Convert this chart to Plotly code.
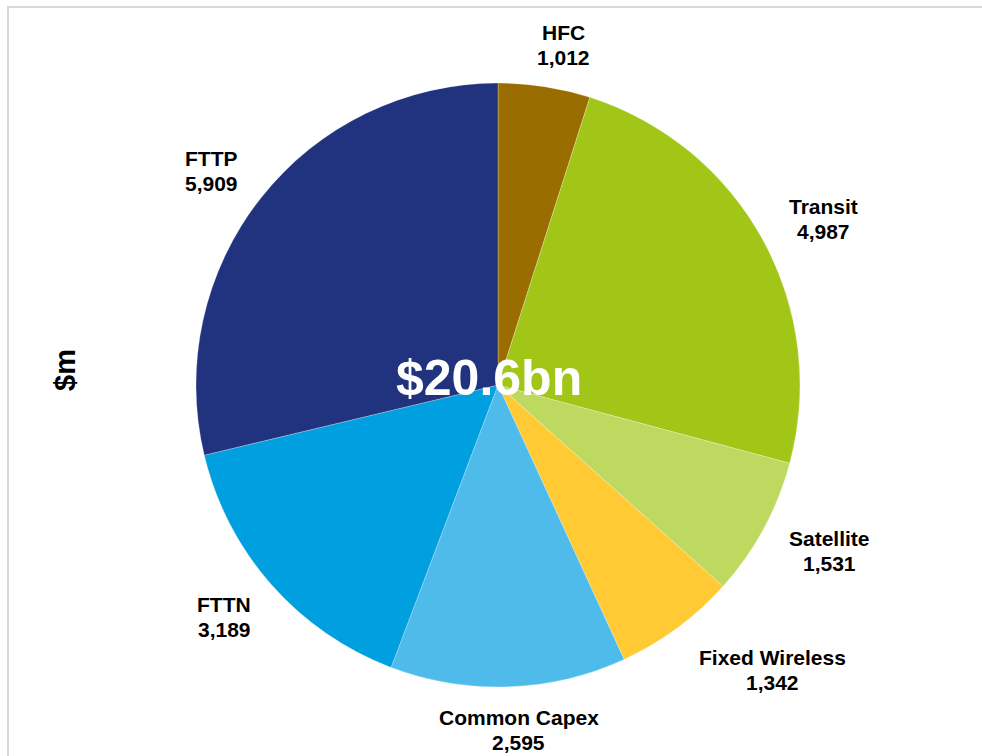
import math
import plotly.graph_objects as go

categories = ["HFC", "Transit", "Satellite", "Fixed Wireless", "Common Capex", "FTTN", "FTTP"]
values = [1012, 4987, 1531, 1342, 2595, 3189, 5909]
colors = ["#9A6D00", "#A2C617", "#BED95F", "#FFCA33", "#4EBBEA", "#009FE0", "#21327E"]
total_label = "$20.6bn"
axis_label = "$m"

# ---- layout (pixels of the 982x756 page) ----
W, H = 982, 756
cx, cy, R = 498, 385, 302
FS = 21
LINE = 25
FONT = "Liberation Sans, Arial, sans-serif"
# small angular (deg) / radial (px) nudges that mimic the spreadsheet's label placement
label_nudge = {"HFC": (2.0, 0), "Transit": (1.6, 0), "Satellite": (-1.8, 0),
               "Fixed Wireless": (-7.5, 6), "Common Capex": (-1.5, 0),
               "FTTN": (1.1, 0), "FTTP": (-1.5, 0)}

# Arial bold advance widths (per 1000 em) for width estimation of label boxes
AW = {"C": 722, "F": 611, "H": 722, "N": 722, "P": 667, "S": 667, "T": 611, "W": 944,
      "a": 556, "e": 556, "i": 278, "l": 278, "m": 889, "n": 611, "o": 611, "p": 611,
      "r": 389, "s": 556, "t": 333, "x": 556, "d": 611, ",": 278, " ": 278}


def text_w(s):
    return sum(AW.get(ch, 556) for ch in s) / 1000 * FS


def px2paper(px, py):
    return px / W, 1 - py / H


fig = go.Figure(go.Pie(
    labels=categories, values=values, sort=False, direction="clockwise", rotation=0,
    marker=dict(colors=colors, line=dict(color="rgba(255,255,255,0.5)", width=0.5)),
    textinfo="none", hoverinfo="label+value", showlegend=False,
    domain=dict(x=[(cx - R) / W, (cx + R) / W], y=[1 - (cy + R) / H, 1 - (cy - R) / H]),
))

annotations = []
total = sum(values)
cum = 0
for cat, v in zip(categories, values):
    mid_deg = (cum + v / 2) / total * 360
    cum += v
    dang, drad = label_nudge.get(cat, (0, 0))
    a = math.radians(mid_deg + dang)
    s, c = math.sin(a), math.cos(a)
    lines = [cat, f"{v:,}"]
    w = max(text_w(l) for l in lines)
    h = 2 * LINE
    gap = 13 + 9 * abs(s)
    d = R + gap + abs(s) * w / 2 + abs(c) * h / 2 + drad
    px, py = cx + d * s, cy - d * c
    for i, line in enumerate(lines):
        x, y = px2paper(px, py + (i - 0.5) * LINE)
        annotations.append(dict(
            x=x, y=y, xref="paper", yref="paper", showarrow=False,
            xanchor="center", yanchor="middle", text=f"<b>{line}</b>",
            font=dict(family=FONT, size=FS, color="#000000"),
        ))

x, y = px2paper(489, 378)
annotations.append(dict(
    x=x, y=y, xref="paper", yref="paper", showarrow=False,
    xanchor="center", yanchor="middle", text=f"<b>{total_label}</b>",
    font=dict(family=FONT, size=50, color="#FFFFFF"),
))
x, y = px2paper(65, 370)
annotations.append(dict(
    x=x, y=y, xref="paper", yref="paper", showarrow=False,
    xanchor="center", yanchor="middle", text=f"<b>{axis_label}</b>", textangle=-90,
    font=dict(family=FONT, size=29, color="#000000"),
))

fig.update_layout(
    width=W, height=H, margin=dict(l=0, r=0, t=0, b=0),
    paper_bgcolor="#FFFFFF", plot_bgcolor="#FFFFFF",
    annotations=annotations,
    shapes=[dict(type="rect", xref="paper", yref="paper",
                 x0=8 / W, x1=1.05, y0=-0.05, y1=1 - 7 / H,
                 line=dict(color="#D9D9D9", width=2), fillcolor="rgba(0,0,0,0)")],
)

fig.write_html("out.html", config={"displayModeBar": False},
               post_script="document.body.style.margin='0';")
